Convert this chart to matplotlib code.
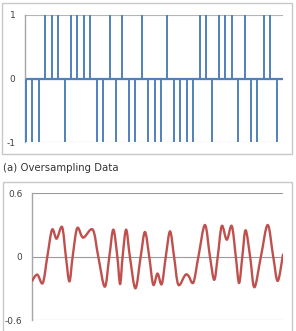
import matplotlib
matplotlib.use('Agg')
import matplotlib.pyplot as plt
from matplotlib.patches import Rectangle, PathPatch
from matplotlib.path import Path

plt.rcParams['axes.unicode_minus'] = False

# top: 1-bit oversampled stream, one value per sample
bits = [-1, -1, -1, 1, 1, 1, -1, 1, 1, 1,
        1, -1, -1, 1, -1, 1, -1, -1, 1, -1,
        -1, -1, 1, -1, -1, -1, -1, 1, 1, -1,
        1, 1, 1, -1, 1, -1, -1, 1, 1, -1]
top_ticks = [-1, 0, 1]

# bottom: filtered signal (t in % of the axis width)
t_sig = [0.0, 2.1, 4.3, 6.1, 8.0, 9.8, 12.0, 13.5, 14.9, 16.2,
         18.0, 20.4, 24.2, 26.4, 29.0, 30.8, 32.4, 34.0, 35.1, 36.1,
         37.5, 39.0, 41.2, 43.3, 45.0, 46.7, 48.3, 50.0, 51.7, 53.3,
         55.0, 56.6, 58.3, 61.0, 62.3, 64.3, 66.3, 68.9, 70.9, 72.6,
         74.0, 75.6, 77.6, 79.6, 81.2, 82.5, 83.8, 85.1, 86.9, 88.6,
         91.2, 93.9, 96.1, 97.9, 100.0]
v_sig = [-0.23, -0.17, -0.25, 0.0, 0.256, 0.17, 0.28, 0.0, -0.235, 0.0,
         0.27, 0.18, 0.256, 0.0, -0.285, 0.0, 0.256, 0.0, -0.26, 0.0,
         0.256, 0.0, -0.30, 0.0, 0.234, 0.0, -0.266, -0.16, -0.26, 0.0,
         0.24, 0.0, -0.266, -0.175, -0.18, -0.245, 0.0, 0.30, 0.0, -0.22,
         0.0, 0.29, 0.16, 0.29, 0.0, -0.25, 0.0, 0.25, 0.0, -0.29,
         0.0, 0.30, 0.0, -0.23, 0.02]
bot_ticks = [-0.6, 0, 0.6]
bot_labels = ['-0.6', '0', '0.6']

W, H = 296, 331
fig = plt.figure(figsize=(W / 100, H / 100), dpi=100)
fig.patch.set_facecolor('white')

def box(x0, y0, x1, y1):
    return [x0 / W, 1 - y1 / H, (x1 - x0) / W, (y1 - y0) / H]

# frames around each chart
fig.add_artist(Rectangle((2 / W, 1 - 154 / H), 290 / W, 151 / H, transform=fig.transFigure,
                         fill=False, ec='#C8C8C8', lw=1))
fig.add_artist(Rectangle((3 / W, 1 - 345 / H), 289 / W, 163 / H, transform=fig.transFigure,
                         fill=False, ec='#C8C8C8', lw=1))

def style(ax):
    for s in ['top', 'right', 'bottom']:
        ax.spines[s].set_visible(False)
    ax.spines['left'].set_color('#A6A6A6')
    ax.spines['left'].set_linewidth(1)
    ax.tick_params(axis='y', length=0, pad=7, labelsize=6.5, labelcolor='#404040')
    ax.tick_params(axis='x', length=0, labelbottom=False)
    ax.grid(axis='y', color='#B4B4B4', lw=0.8)
    ax.set_axisbelow(True)

ax1 = fig.add_axes(box(25, 15, 283, 142))
style(ax1)
idx = list(range(len(bits)))
ax1.axhline(0, color='#4F81BD', lw=1.6, zorder=2)
ax1.vlines(idx, 0, bits, color='#4F81BD', lw=1.4, zorder=3)
ax1.set_xlim(-0.16, 39.97)
ax1.set_ylim(-1, 1)
ax1.set_yticks(top_ticks)
ax1.set_xticks([])

fig.text(3 / W, 1 - 168 / H, '(a) Oversampling Data', va='center', ha='left',
         fontsize=7.3, color='#333333')

ax2 = fig.add_axes(box(32, 193.3, 283, 320))
style(ax2)
ax2.grid(axis='y', color='#9A9A9A', lw=0.8)

# smoothed line through the read points (like Excel's smoothed line)
pts = list(zip(t_sig, v_sig))
verts = [pts[0]]
codes = [Path.MOVETO]
n = len(pts)
for i in range(n - 1):
    p0 = pts[i - 1] if i > 0 else pts[i]
    p1 = pts[i]
    p2 = pts[i + 1]
    p3 = pts[i + 2] if i + 2 < n else pts[i + 1]
    c1 = (p1[0] + (p2[0] - p0[0]) / 6, p1[1] + (p2[1] - p0[1]) / 6)
    c2 = (p2[0] - (p3[0] - p1[0]) / 6, p2[1] - (p3[1] - p1[1]) / 6)
    verts += [c1, c2, p2]
    codes += [Path.CURVE4] * 3
ax2.add_patch(PathPatch(Path(verts, codes), fill=False, ec='#C0504D', lw=1.7,
                        capstyle='round', joinstyle='round', zorder=3))
ax2.set_xlim(0, 100)
ax2.set_ylim(-0.6, 0.6)
ax2.set_yticks(bot_ticks)
ax2.set_yticklabels(bot_labels)
ax2.set_xticks([])

fig.savefig('out.png', dpi=100)
